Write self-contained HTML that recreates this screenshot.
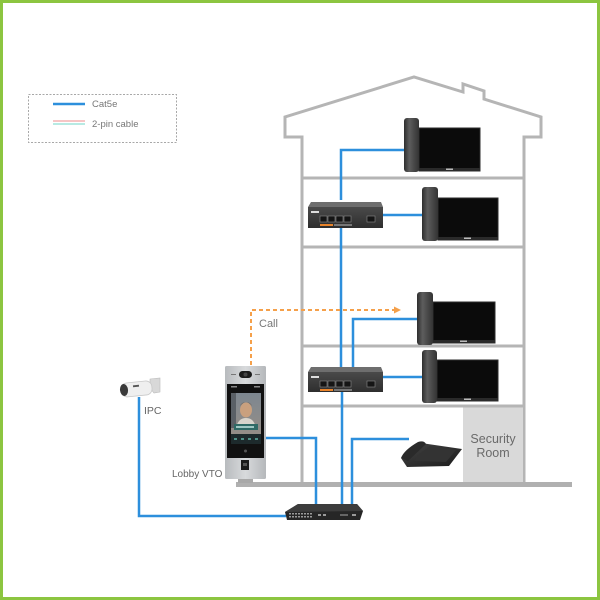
<!DOCTYPE html>
<html>
<head>
<meta charset="utf-8">
<style>
  html,body{margin:0;padding:0;background:#fff;}
  .wrap{position:relative;width:600px;height:600px;overflow:hidden;background:#fff;}
  svg{position:absolute;left:0;top:0;}
  text{font-family:"Liberation Sans", sans-serif;}
</style>
</head>
<body>
<div class="wrap">
<svg width="600" height="600" viewBox="0 0 600 600" xmlns="http://www.w3.org/2000/svg">
  <defs>
    <linearGradient id="hs" x1="0" y1="0" x2="1" y2="0">
      <stop offset="0" stop-color="#2e2e2e"/>
      <stop offset="0.35" stop-color="#5d5d5d"/>
      <stop offset="1" stop-color="#333"/>
    </linearGradient>
    <linearGradient id="sw" x1="0" y1="0" x2="0" y2="1">
      <stop offset="0" stop-color="#4a4a4a"/>
      <stop offset="1" stop-color="#2e2e2e"/>
    </linearGradient>
    <linearGradient id="vto" x1="0" y1="0" x2="1" y2="0">
      <stop offset="0" stop-color="#b8bbbe"/>
      <stop offset="0.5" stop-color="#d8dadc"/>
      <stop offset="1" stop-color="#b5b8bb"/>
    </linearGradient>
    <linearGradient id="scr" x1="0" y1="0" x2="0" y2="1">
      <stop offset="0" stop-color="#7d8790"/>
      <stop offset="1" stop-color="#9a8f85"/>
    </linearGradient>
    <linearGradient id="sec" x1="0" y1="0" x2="1" y2="1">
      <stop offset="0" stop-color="#444"/>
      <stop offset="1" stop-color="#1c1c1c"/>
    </linearGradient>
  </defs>

  <!-- green frame -->
  <rect x="1.5" y="1.5" width="597" height="597" fill="none" stroke="#8cc540" stroke-width="3"/>

  <!-- legend -->
  <rect x="28.5" y="94.5" width="148" height="48" fill="#fff" stroke="#a8a8a8" stroke-width="1" stroke-dasharray="2,1.5"/>
  <line x1="53" y1="104" x2="85" y2="104" stroke="#2d8fdc" stroke-width="2.5"/>
  <text x="92" y="107" font-size="9.5" fill="#777">Cat5e</text>
  <line x1="53" y1="121" x2="85" y2="121" stroke="#f3b3b3" stroke-width="1.5"/>
  <line x1="53" y1="124" x2="85" y2="124" stroke="#9fe3da" stroke-width="1.5"/>
  <text x="92" y="127" font-size="9.5" fill="#777">2-pin cable</text>

  <!-- house outline -->
  <path d="M302,483 L302,137 L285,137 L285,117 L414,77 L463,92 L463,84 L484,91 L484,99 L541,117 L541,137 L524,137 L524,483"
        fill="none" stroke="#b5b5b5" stroke-width="3" stroke-linejoin="miter"/>
  <!-- security room -->
  <rect x="463" y="407" width="60" height="75" fill="#d9d9d9"/>
  <text x="493" y="443" font-size="12.5" fill="#6a6a6a" text-anchor="middle">Security</text>
  <text x="493" y="457" font-size="12.5" fill="#6a6a6a" text-anchor="middle">Room</text>
  <!-- floors -->
  <g stroke="#b5b5b5" stroke-width="3">
    <line x1="302" y1="178" x2="524" y2="178"/>
    <line x1="302" y1="247" x2="524" y2="247"/>
    <line x1="302" y1="346" x2="524" y2="346"/>
    <line x1="302" y1="406" x2="524" y2="406"/>
  </g>
  <!-- ground -->
  <rect x="236" y="482" width="336" height="5" fill="#b0b0b0"/>

  <!-- blue cables -->
  <g fill="none" stroke="#2d8fdc" stroke-width="2.5">
    <path d="M404,150 H341 V200"/>
    <path d="M383,215 H422"/>
    <path d="M341,228 V367"/>
    <path d="M418,319 H353 V367"/>
    <path d="M383,377 H422"/>
    <path d="M342,392 V505"/>
    <path d="M409,439 H352 V505"/>
    <path d="M265,438 H316 V505"/>
    <path d="M139,397 V516 H286"/>
  </g>

  <!-- orange call -->
  <path d="M251,365 V310 H395" fill="none" stroke="#f5a04a" stroke-width="2" stroke-dasharray="4,3"/>
  <polygon points="394,306.5 401,310 394,313.5" fill="#f5a04a"/>
  <text x="259" y="327" font-size="11" fill="#777">Call</text>

  <!-- monitors -->
  <g>
    <rect x="419" y="128" width="61" height="43" fill="#0b0b0b" stroke="#2e2e2e" stroke-width="1"/>
    <rect x="419" y="168" width="61" height="3" fill="#2a2a2a"/>
    <rect x="446" y="168.5" width="7" height="1.5" fill="#bbb"/>
    <rect x="404" y="118" width="15" height="54" rx="3" fill="url(#hs)"/>
  </g>
  <g>
    <rect x="438" y="198" width="60" height="42" fill="#0b0b0b" stroke="#2e2e2e" stroke-width="1"/>
    <rect x="438" y="237" width="60" height="3" fill="#2a2a2a"/>
    <rect x="464" y="237.5" width="7" height="1.5" fill="#bbb"/>
    <rect x="422" y="187" width="16" height="54" rx="3" fill="url(#hs)"/>
  </g>
  <g>
    <rect x="433" y="302" width="62" height="41" fill="#0b0b0b" stroke="#2e2e2e" stroke-width="1"/>
    <rect x="433" y="340" width="62" height="3" fill="#2a2a2a"/>
    <rect x="460" y="340.5" width="7" height="1.5" fill="#bbb"/>
    <rect x="417" y="292" width="16" height="53" rx="3" fill="url(#hs)"/>
  </g>
  <g>
    <rect x="437" y="360" width="61" height="41" fill="#0b0b0b" stroke="#2e2e2e" stroke-width="1"/>
    <rect x="437" y="398" width="61" height="3" fill="#2a2a2a"/>
    <rect x="464" y="398.5" width="7" height="1.5" fill="#bbb"/>
    <rect x="422" y="350" width="15" height="53" rx="3" fill="url(#hs)"/>
  </g>

  <!-- small switches -->
  <g>
    <polygon points="311,202 381,202 383,207 308,207" fill="#6e6e6e"/>
    <rect x="308" y="207" width="75" height="21" fill="url(#sw)"/>
    <rect x="311" y="211" width="8" height="2" fill="#ddd"/>
    <g fill="#151515" stroke="#8a8a8a" stroke-width="0.6">
      <rect x="320" y="216" width="7" height="6"/><rect x="328" y="216" width="7" height="6"/>
      <rect x="336" y="216" width="7" height="6"/><rect x="344" y="216" width="7" height="6"/>
      <rect x="367" y="216" width="8" height="6"/>
    </g>
    <rect x="320" y="224" width="13" height="2" fill="#e8832a"/>
    <rect x="334" y="224" width="18" height="2" fill="#777"/>
  </g>
  <g>
    <polygon points="311,367 381,367 383,372 308,372" fill="#6e6e6e"/>
    <rect x="308" y="372" width="75" height="20" fill="url(#sw)"/>
    <rect x="311" y="376" width="8" height="2" fill="#ddd"/>
    <g fill="#151515" stroke="#8a8a8a" stroke-width="0.6">
      <rect x="320" y="381" width="7" height="6"/><rect x="328" y="381" width="7" height="6"/>
      <rect x="336" y="381" width="7" height="6"/><rect x="344" y="381" width="7" height="6"/>
      <rect x="367" y="381" width="8" height="6"/>
    </g>
    <rect x="320" y="389" width="13" height="2" fill="#e8832a"/>
    <rect x="334" y="389" width="18" height="2" fill="#777"/>
  </g>

  <!-- main switch -->
  <g>
    <polygon points="298,504 357,504 363,511 360,520 287,520 285,512" fill="#262626"/>
    <polygon points="298,504 357,504 363,511 285,512" fill="#3c3c3c"/>
    <g fill="#9a9a9a">
      <rect x="289" y="513" width="2" height="1.5"/><rect x="292" y="513" width="2" height="1.5"/>
      <rect x="295" y="513" width="2" height="1.5"/><rect x="298" y="513" width="2" height="1.5"/>
      <rect x="301" y="513" width="2" height="1.5"/><rect x="304" y="513" width="2" height="1.5"/>
      <rect x="307" y="513" width="2" height="1.5"/><rect x="310" y="513" width="2" height="1.5"/>
      <rect x="289" y="516" width="2" height="1.5"/><rect x="292" y="516" width="2" height="1.5"/>
      <rect x="295" y="516" width="2" height="1.5"/><rect x="298" y="516" width="2" height="1.5"/>
      <rect x="301" y="516" width="2" height="1.5"/><rect x="304" y="516" width="2" height="1.5"/>
      <rect x="307" y="516" width="2" height="1.5"/><rect x="310" y="516" width="2" height="1.5"/>
      <rect x="318" y="514" width="3" height="2"/><rect x="323" y="514" width="3" height="2"/>
      <rect x="340" y="514" width="8" height="2" fill="#666"/>
      <rect x="352" y="514" width="4" height="2"/>
    </g>
  </g>

  <!-- security desk monitor -->
  <g>
    <polygon points="401,458 421,443 462,449 449,466 407,467" fill="url(#sec)"/>
    <polygon points="418,455 430,446 456,450 446,462 414,461" fill="#333"/>
    <path d="M401,458 Q404,450 418,442 Q424,440 426,444 L408,461 Z" fill="#2a2a2a"/>
  </g>

  <!-- IPC camera -->
  <g>
    <path d="M150,379 L160,378 L160,392 L154,393 L150,388 Z" fill="#d8d8d8" stroke="#bbb" stroke-width="0.6"/>
    <rect x="121" y="382" width="31" height="14" rx="6" fill="#efefef" stroke="#c8c8c8" stroke-width="0.8" transform="rotate(-6 136 389)"/>
    <ellipse cx="124" cy="390" rx="4" ry="6" fill="#3a3a3a" transform="rotate(-6 124 390)"/>
    <rect x="133" y="385" width="6" height="2" fill="#555" transform="rotate(-6 136 386)"/>
  </g>
  <text x="144" y="414" font-size="10.5" fill="#666">IPC</text>

  <!-- Lobby VTO -->
  <g>
    <rect x="238" y="477" width="15" height="6" fill="#a8a8a8"/>
    <rect x="225" y="366" width="41" height="113" rx="1.5" fill="url(#vto)"/>
    <rect x="239" y="371" width="13" height="7" rx="3.5" fill="#1a1a1a"/>
    <circle cx="245.5" cy="374.5" r="2" fill="#444"/>
    <rect x="231" y="374" width="5" height="1" fill="#777"/>
    <rect x="255" y="374" width="5" height="1" fill="#777"/>
    <rect x="227" y="384" width="37" height="74" fill="#111"/>
    <rect x="231" y="386" width="6" height="1.5" fill="#888"/>
    <rect x="254" y="386" width="6" height="1.5" fill="#888"/>
    <rect x="231" y="393" width="30" height="51" fill="url(#scr)"/>
    <rect x="231" y="393" width="5" height="35" fill="#5a6066"/>
    <ellipse cx="246" cy="410" rx="6" ry="7.5" fill="#c9a07e"/>
    <path d="M240,406 Q246,398 252,406 Q250,402 246,402 Q242,402 240,406 Z" fill="#5a4534"/>
    <path d="M236,428 Q238,418 246,418 Q254,418 256,428 Z" fill="#d8d4cc"/>
    <rect x="234" y="424" width="24" height="6" fill="#2f6a66"/>
    <rect x="236" y="426" width="18" height="2" fill="#9ec7c3"/>
    <rect x="231" y="434" width="30" height="10" fill="#1d2a2c"/>
    <g fill="#4f8f86">
      <rect x="234" y="438" width="3" height="2"/><rect x="241" y="438" width="3" height="2"/>
      <rect x="248" y="438" width="3" height="2"/><rect x="255" y="438" width="3" height="2"/>
    </g>
    <circle cx="245.5" cy="451" r="1.5" fill="#555"/>
    <rect x="241" y="460" width="8" height="10" fill="#1a1a1a"/>
    <rect x="243" y="463" width="4" height="3" fill="#555"/>
  </g>
  <text x="172" y="477" font-size="10" fill="#666">Lobby VTO</text>
</svg>
</div>
</body>
</html>
